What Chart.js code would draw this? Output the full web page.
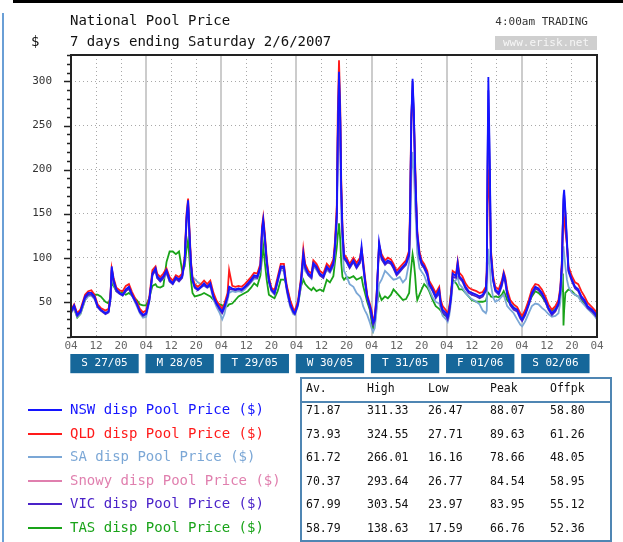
<!DOCTYPE html>
<html><head><meta charset="utf-8">
<script src="https://cdn.jsdelivr.net/npm/chart.js@4"></script>
<style>
html,body{margin:0;padding:0;background:#fff;}
body{width:623px;height:542px;overflow:hidden;position:relative;font-family:"DejaVu Sans Mono","Liberation Mono",monospace;}
#c{position:absolute;left:0;top:0;}
.t{position:absolute;white-space:pre;}
</style></head><body>
<canvas id="c" width="623" height="542"></canvas>
<div id="overlay"></div>
<script>
// ---- data ----
const hours = [0,1,2,3,4.5,5.5,6.5,7.5,8.5,9.5,11,12,12.6,13,13.6,14.5,15.5,16.5,17.5,18.5,19.5,21,22,23,24,25,
26,27,27.5,28.5,29.5,30.5,31.5,32.5,33.5,34.5,35.5,36.3,36.9,37.4,37.8,38.3,38.8,39.5,40.5,41.5,42.5,43.5,44.5,45.5,46.5,47.5,48.3,49,
50,50.5,51.5,52.5,53.5,54.5,55.5,56.5,57.5,58.5,59.5,60.5,61,61.4,61.9,62.5,63.2,64,65,66,67,68,68.5,69,70,71,71.5,72.5,
73.5,74.2,74.8,75.8,76.8,77.4,78.4,79.5,80.6,81.7,82.7,83.8,84.3,84.9,85.2,85.6,86,86.3,86.7,87.2,88,89,90.2,91.2,92.3,92.8,93.3,93.9,94.6,95.5,96,96.5,97,97.6,
98.4,99.2,100.3,101.2,102.2,103,104,105,106,107,108,108.3,108.7,109.1,109.5,109.9,110.3,110.6,111.3,112,112.8,113.8,114.4,115.5,116.5,117.6,118.1,118.7,119.8,120.3,120.8,
121.4,121.9,123,123.5,124,125,126,127,128,129.5,130.5,131.5,132.5,132.8,133,133.3,133.8,134.1,134.8,135.5,136.6,137.6,138.2,138.7,139.3,140.3,141.4,142.5,143.5,
144.1,145.1,146.2,147.2,148.3,149.3,150.4,151.5,152.5,153.6,154.7,155.7,156.3,156.8,157.1,157.3,157.5,157.9,158.4,158.9,160,161,162,163,164,165,166.4,167.4,168];

const nsw = [39,46,35,39,56,60,60,56,45,41,37,39,55,90,75,64,60,58,64,67,58,48,39,35,37,52,
82,88,79,75,79,86,75,71,78,75,79,97,146,165,131,94,75,67,64,67,71,67,71,56,48,43,39,45,
56,67,65,64,65,64,67,71,75,80,79,90,131,143,124,97,75,64,60,75,90,90,75,64,48,39,37,48,
75,105,90,82,79,94,90,82,79,90,86,94,113,150,240,311,260,180,131,101,97,90,97,90,97,113,94,75,56,45,37,27,30,56,
118,101,94,97,95,90,82,86,90,94,105,150,259,303,267,203,157,127,104,94,90,82,71,64,56,64,48,41,37,33,41,
56,82,79,94,79,75,67,62,60,58,56,58,64,83,199,305,199,106,76,64,60,71,82,75,60,48,43,41,33,
30,37,48,60,67,65,60,52,43,37,41,48,64,94,143,170,177,154,120,86,75,67,64,56,52,45,41,37,33];

const qld = [41,47,37,41,58,62,63,58,47,43,40,42,57,88,77,66,63,62,68,70,61,50,42,38,40,55,
86,90,82,78,82,88,78,74,80,78,82,100,150,167,135,97,78,70,67,70,74,70,74,60,51,46,42,48,
60,86,68,67,68,67,70,74,78,83,82,93,135,146,128,100,78,66,63,78,93,93,78,67,52,42,40,51,
78,110,93,85,82,97,93,85,82,93,89,98,118,160,262,324,270,190,135,104,100,93,100,94,100,110,97,78,58,47,40,30,33,58,
115,104,97,100,98,93,85,89,93,97,108,160,262,290,260,210,160,130,107,97,93,85,74,67,60,67,52,45,40,36,44,
60,85,82,96,83,79,71,66,64,62,60,61,67,86,150,200,160,110,80,67,64,74,84,78,64,52,47,44,37,
34,41,52,64,70,69,64,56,47,41,45,52,67,98,139,150,145,130,115,90,79,72,70,62,56,49,44,40,36];

const sa = [37,42,33,36,52,56,57,53,44,40,38,40,52,84,70,62,59,57,62,65,57,45,37,32,33,50,
80,86,77,73,76,82,73,70,76,74,78,95,140,158,128,92,78,76,72,70,68,66,67,53,44,37,30,36,
52,60,62,61,62,61,64,68,72,76,76,86,125,136,118,94,72,62,58,72,86,85,72,60,44,36,35,45,
70,95,85,80,76,90,86,80,78,86,83,90,108,140,200,266,220,150,110,85,79,70,67,60,56,52,45,40,35,26,20,16,20,40,
70,75,85,82,78,75,76,78,72,76,95,120,190,220,200,160,130,105,88,84,80,70,64,55,50,48,42,34,30,27,34,
50,70,75,78,70,66,60,56,53,50,47,40,37,40,80,110,90,70,55,50,52,56,58,52,45,41,37,30,24,
22,28,37,45,48,47,43,40,36,33,34,37,50,75,100,113,105,90,75,67,60,58,56,50,46,42,37,33,30];

const snowy = [39,45,35,39,55,59,60,56,45,41,37,39,55,88,74,63,60,58,64,66,58,47,39,35,37,52,
82,88,79,75,78,85,75,71,78,75,79,97,144,163,130,93,75,68,65,67,70,67,70,56,48,42,38,44,
56,66,65,64,65,64,67,71,75,79,79,89,130,141,122,96,74,64,60,75,89,89,75,63,48,39,37,48,
74,103,89,82,78,93,89,82,79,89,86,93,112,148,235,293,250,175,128,100,96,89,96,89,95,108,92,73,55,44,36,27,30,55,
115,100,93,96,94,89,81,85,89,93,104,148,250,285,255,198,155,125,102,93,89,81,70,63,56,62,47,40,36,32,40,
56,80,78,92,78,75,67,62,60,58,56,57,63,82,180,260,180,104,76,64,60,70,80,74,60,48,43,40,33,
30,37,48,60,66,65,60,52,43,37,41,48,63,92,135,160,165,150,115,85,75,67,64,56,52,45,41,37,33];

const vic = [38,44,34,38,54,58,58,54,44,40,36,38,53,86,72,62,59,57,62,65,57,47,38,34,36,51,
80,86,77,73,77,84,73,70,76,73,77,95,142,160,128,92,74,66,63,66,69,66,69,55,47,41,37,43,
55,64,64,63,64,63,66,69,73,78,77,88,128,140,121,95,73,63,59,73,88,88,73,62,46,38,36,47,
73,100,88,80,77,92,88,80,77,88,84,92,110,146,232,303,255,178,128,99,95,88,95,88,94,106,90,72,54,42,32,24,28,53,
112,98,92,95,93,88,80,84,88,92,102,146,255,300,262,200,155,124,100,92,88,80,69,62,54,60,46,38,34,30,38,
54,78,77,90,77,73,65,60,58,56,54,56,62,80,190,290,190,103,74,62,58,68,78,72,58,46,41,39,31,
28,35,46,58,65,63,58,50,41,35,39,46,62,90,138,165,172,150,115,84,73,65,62,54,50,43,39,35,32];

const tas = [40,42,32,36,52,57,58,58,58,56,50,48,55,72,68,62,61,60,58,60,57,52,47,46,46,54,
68,70,67,66,68,95,107,107,104,107,85,90,110,120,100,75,60,56,57,58,60,58,56,52,48,47,46,44,
45,47,48,52,56,58,60,62,66,71,68,80,100,113,95,75,58,56,54,62,75,75,73,65,50,38,37,47,
68,75,70,66,63,66,62,64,62,75,72,79,95,112,125,139,120,95,78,75,78,77,79,75,77,78,68,60,50,40,28,18,25,45,
60,52,56,54,58,64,60,56,52,53,60,75,90,104,95,80,60,52,58,64,70,66,62,52,45,42,40,36,34,33,40,
62,75,71,68,64,64,60,56,52,50,50,50,51,55,58,60,58,56,55,56,55,58,62,58,52,48,44,40,35,
33,38,48,56,62,60,56,50,43,39,42,48,58,64,82,23,40,60,62,64,62,58,56,52,48,44,40,35,31];

const seriesNames = ['NSW disp Pool Price ($)','QLD disp Pool Price ($)','SA disp Pool Price ($)','Snowy disp Pool Price ($)','VIC disp Pool Price ($)','TAS disp Pool Price ($)'];
const seriesColors = ['#1414ff','#ff1a1a','#7ba7d6','#e07fae','#4a22c8','#19a319'];
const seriesOrder = [0,2,4,3,1,5];
const dayLabels = ['S 27/05','M 28/05','T 29/05','W 30/05','T 31/05','F 01/06','S 02/06'];
const hourLabels = ['04','12','20'];
const statHeaders = ['Av.','High','Low','Peak','Offpk'];
const avgVals = [71.87,73.93,61.72,70.37,67.99,58.79];
const highVals = [311.33,324.55,266.01,293.64,303.54,138.63];
const lowVals = [26.47,27.71,16.16,26.77,23.97,17.59];
const peakVals = [88.07,89.63,78.66,84.54,83.95,66.76];
const offpkVals = [58.80,61.26,48.05,58.95,55.12,52.36];

const seriesValues = [nsw, qld, sa, snowy, vic, tas];
seriesValues.forEach((s,i)=>{ if (s.length !== hours.length) throw new Error('length mismatch series '+i+': '+s.length+' vs '+hours.length); });

// ---- overlay (titles, legend, table) ----
const ov = document.getElementById('overlay');
function addDiv(style, text) {
  const d = document.createElement('div');
  d.className = 't';
  d.style.cssText = style;
  if (text !== undefined) d.textContent = text;
  ov.appendChild(d);
  return d;
}
addDiv('left:13px;top:0;width:610px;height:3px;background:#000;');
addDiv('left:2px;top:13px;width:2px;height:529px;background:#6a9fd6;');
addDiv('left:31px;top:33px;font-size:14px;line-height:16px;color:#111;', '$');
addDiv('left:70px;top:12px;font-size:14px;line-height:16px;color:#111;', 'National Pool Price');
addDiv('left:70px;top:33px;font-size:14px;line-height:16px;color:#111;', '7 days ending Saturday 2/6/2007');
addDiv('left:470px;top:15px;width:118px;text-align:right;font-size:11px;line-height:13px;color:#333;', '4:00am TRADING');
addDiv('left:495px;top:36px;width:102px;height:14px;background:#cfcfcf;color:#f6f6f6;text-align:center;font-size:11px;line-height:14px;', 'www.erisk.net');

const rowY = [410,433.5,457,480.5,504,527.5];
seriesNames.forEach((name,i)=>{
  addDiv(`left:28px;top:${rowY[i]-1}px;width:34px;height:2px;background:${seriesColors[i]};`);
  addDiv(`left:70px;top:${rowY[i]-9}px;font-size:14px;line-height:17px;color:${seriesColors[i]};`, name);
});
// table
addDiv('left:300px;top:377px;width:308px;height:161px;border:2px solid #4f86b3;');
addDiv('left:302px;top:401px;width:308px;height:2px;background:#4f86b3;');
const colX = [306,367,428,490,550];
statHeaders.forEach((h,j)=> addDiv(`left:${colX[j]}px;top:381px;font-size:11.5px;line-height:14px;color:#111;`, h));
const statCols = [avgVals, highVals, lowVals, peakVals, offpkVals];
seriesNames.forEach((_,i)=>{
  statCols.forEach((col,j)=> addDiv(`left:${colX[j]}px;top:${rowY[i]-7}px;font-size:11.5px;line-height:14px;color:#111;`, col[i].toFixed(2)));
});

// ---- chart ----
const FONT = '"DejaVu Sans Mono", monospace';
const hourTicks = []; for (let v = 0; v <= 168; v += 8) hourTicks.push(v);
const dayTickPos = dayLabels.map((_,i)=> i*24 + 10.7);

const datasets = seriesValues.map((vals,i)=>({
  label: seriesNames[i],
  data: hours.map((h,j)=>({x:h, y:vals[j]})),
  borderColor: seriesColors[i],
  backgroundColor: seriesColors[i],
  borderWidth: 1.8,
  pointRadius: 0,
  tension: 0,
  fill: false,
  order: seriesOrder[i]
}));

const framePlugin = {
  id: 'frame',
  afterDraw(chart) {
    const {ctx, chartArea: a, scales: {y}} = chart;
    ctx.save();
    ctx.strokeStyle = '#222';
    ctx.lineWidth = 2;
    ctx.strokeRect(a.left, a.top, a.right - a.left, a.bottom - a.top);
    ctx.lineWidth = 1.5;
    y.ticks.forEach(t => {
      const py = Math.round(y.getPixelForValue(t.value)) + 0.5;
      const len = t.value % 50 === 0 ? 7 : 4;
      ctx.beginPath(); ctx.moveTo(a.left - len, py); ctx.lineTo(a.left, py); ctx.stroke();
    });
    ctx.restore();
  }
};

new Chart(document.getElementById('c'), {
  type: 'line',
  data: { datasets },
  plugins: [framePlugin],
  options: {
    responsive: false,
    animation: false,
    events: [],
    layout: { padding: { left: 0, top: 55, right: 26, bottom: 168 } },
    plugins: { legend: { display: false }, tooltip: { enabled: false } },
    scales: {
      x: {
        type: 'linear', min: 0, max: 168, position: 'bottom',
        afterBuildTicks: axis => { axis.ticks = hourTicks.map(v => ({ value: v })); },
        afterFit: axis => { axis.height = 15; },
        ticks: { autoSkip: false, maxRotation: 0, padding: 3, color: '#666',
          font: { family: FONT, size: 11 },
          callback: v => hourLabels[Math.round(v / 8) % 3] },
        grid: { drawTicks: false,
          color: c => (c.tick && c.tick.value % 24 === 0) ? '#cccccc' : '#a8a8a8',
          lineWidth: c => (c.tick && c.tick.value % 24 === 0) ? 2 : 1 },
        border: { display: false, dash: c => (c.tick && c.tick.value % 24 === 0) ? [] : [1, 3] }
      },
      x2: {
        type: 'linear', min: 0, max: 168, position: 'bottom',
        afterBuildTicks: axis => { axis.ticks = dayTickPos.map(v => ({ value: v })); },
        afterFit: axis => { axis.height = 22; },
        ticks: { autoSkip: false, maxRotation: 0, padding: 5, color: '#ffffff',
          font: { family: FONT, size: 11 },
          showLabelBackdrop: true, backdropColor: '#16679a',
          backdropPadding: { top: 3, bottom: 3, left: 11, right: 11 },
          callback: (v, i) => dayLabels[i] },
        grid: { display: false, drawTicks: false },
        border: { display: false }
      },
      y: {
        type: 'linear', min: 10, max: 330,
        afterFit: axis => { axis.width = 71; },
        ticks: { stepSize: 10, autoSkip: false, padding: 19, color: '#333',
          font: { family: FONT, size: 11 },
          callback: v => (v % 50 === 0 ? String(v) : '') },
        grid: { drawTicks: false,
          color: c => (c.tick && c.tick.value % 50 === 0 && c.tick.value < 330) ? '#a8a8a8' : 'rgba(0,0,0,0)' },
        border: { display: false, dash: [1, 3] }
      }
    }
  }
});
</script>
</body></html>
